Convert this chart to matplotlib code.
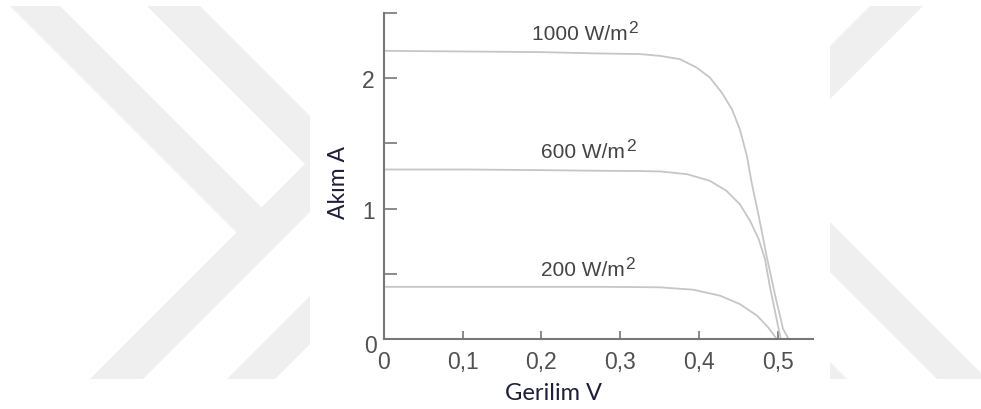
import matplotlib
matplotlib.use("Agg")
import matplotlib.pyplot as plt
from matplotlib.patches import Polygon, Rectangle

plt.rcParams['font.family'] = ['Liberation Sans', 'DejaVu Sans']

# ---- data ----
v_1000 = [0.0, 0.10, 0.20, 0.27, 0.325, 0.351, 0.376, 0.397, 0.414, 0.429, 0.442, 0.452,
          0.461, 0.467, 0.476, 0.486, 0.497, 0.507, 0.514]
i_1000 = [2.21, 2.205, 2.20, 2.19, 2.185, 2.171, 2.146, 2.082, 2.005, 1.890, 1.762, 1.609,
          1.405, 1.201, 0.945, 0.638, 0.332, 0.077, 0.0]

v_600 = [0.0, 0.10, 0.20, 0.274, 0.325, 0.351, 0.385, 0.414, 0.435, 0.452, 0.465, 0.476,
         0.484, 0.490, 0.497, 0.504]
i_600 = [1.30, 1.30, 1.295, 1.29, 1.288, 1.285, 1.264, 1.213, 1.137, 1.034, 0.907, 0.766,
         0.613, 0.409, 0.204, 0.0]

v_200 = [0.0, 0.10, 0.20, 0.274, 0.325, 0.351, 0.393, 0.427, 0.452, 0.474, 0.488, 0.499]
i_200 = [0.40, 0.40, 0.40, 0.40, 0.398, 0.396, 0.378, 0.332, 0.268, 0.179, 0.089, 0.0]

curve_labels = ['1000 W/m', '600 W/m', '200 W/m']
label_sup = ['2', '2', '2']
label_x = [0.2485, 0.2528, 0.2522]
label_y = [2.30, 1.395, 0.49]

x_ticks = [0.0, 0.1, 0.2, 0.3, 0.4, 0.5]
x_tick_labels = ['0', '0,1', '0,2', '0,3', '0,4', '0,5']
y_ticks = [0.0, 0.5, 1.0, 1.5, 2.0, 2.5]
y_tick_labels = ['', '', '1', '', '2', '']

x_label = 'Gerilim V'
y_label = 'Akım A'

# ---- figure ----
fig = plt.figure(figsize=(9.81, 4.10), dpi=100)

# background watermark (decorative chevron bands), pixel coordinates
bg = fig.add_axes([0, 0, 1, 1], zorder=0)
bg.set_xlim(0, 981)
bg.set_ylim(410, 0)
bg.axis('off')
wm = '#efefef'
bands = [
    [(10, 7), (60, 7), (288, 235), (236.5, 233.5)],
    [(90, 380), (143, 380), (373, 150), (320, 150)],
    [(147, 7), (200, 7), (393, 200), (340, 200)],
    [(227, 380), (275, 380), (400, 255), (352, 255)],
    [(870, 7), (923, 7), (780, 150), (727, 150)],
    [(807, 200), (987, 380), (937, 380), (757, 200)],
    [(717, 300), (767, 300), (847, 380), (797, 380)],
]
for b in bands:
    bg.add_patch(Polygon(b, closed=True, facecolor=wm, edgecolor='none'))
bg.add_patch(Rectangle((310, 0), 520, 410, facecolor='white', edgecolor='none'))

# chart axes
ax = fig.add_axes([384 / 981, 70 / 410, 429 / 981, 326 / 410], zorder=2)
ax.patch.set_alpha(0)
ax.set_xlim(0, 0.545)
ax.set_ylim(0, 2.5)

line_color = '#c6c6c6'
for v, i in [(v_1000, i_1000), (v_600, i_600), (v_200, i_200)]:
    ax.plot(v, i, color=line_color, lw=1.3, solid_joinstyle='round', solid_capstyle='round',
            clip_on=False)

lab_c = '#444444'
for txt, sup, lx, ly in zip(curve_labels, label_sup, label_x, label_y):
    t = ax.text(lx, ly, txt, ha='center', va='baseline', fontsize=15, color=lab_c)
    ax.annotate(sup, xy=(1, 1), xycoords=t, xytext=(1, 4), textcoords='offset pixels',
                ha='left', va='top', fontsize=12.5, color=lab_c)

spine_c = '#777777'
for s in ['top', 'right']:
    ax.spines[s].set_visible(False)
for s in ['left', 'bottom']:
    ax.spines[s].set_color(spine_c)
    ax.spines[s].set_linewidth(1.5)

ax.set_xticks(x_ticks)
ax.set_xticklabels(x_tick_labels)
ax.set_yticks(y_ticks)
ax.set_yticklabels(y_tick_labels)
ax.tick_params(axis='x', direction='in', length=5.5, width=1.2, color=spine_c,
               labelsize=16.5, labelcolor='#505050', pad=8)
ax.tick_params(axis='y', direction='in', length=9, width=1.2, color=spine_c,
               labelsize=16.5, labelcolor='#505050', pad=6.5)

# y-axis zero label, set slightly below the origin as in the original
ax.annotate('0', xy=(0, 0), xycoords='data', xytext=(-7, -7), textcoords='offset pixels',
            ha='right', va='center', fontsize=16.5, color='#505050')

ax.text(-0.105, 0.482, y_label, transform=ax.transAxes, rotation=90, ha='center', va='center',
        rotation_mode='anchor', fontsize=16.5, family=['Lato', 'DejaVu Sans'], color='#1e1e38')
ax.text(0.396, -0.163, x_label, transform=ax.transAxes, ha='center', va='center',
        fontsize=17, family=['Lato', 'DejaVu Sans'], color='#1e1e38')

fig.savefig('out.png', dpi=100)
